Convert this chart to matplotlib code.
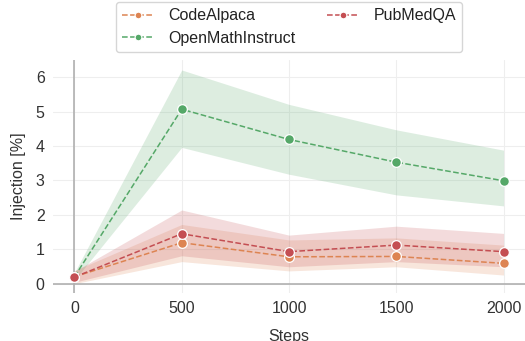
import numpy as np
import matplotlib
matplotlib.use("Agg")
import matplotlib.pyplot as plt
import seaborn as sns

steps = [0, 500, 1000, 1500, 2000]

code_alpaca = [0.20, 1.19, 0.78, 0.79, 0.59]
code_alpaca_lo = [0.00, 0.64, 0.37, 0.49, 0.25]
code_alpaca_hi = [0.38, 1.72, 1.27, 1.33, 1.12]

open_math = [0.20, 5.07, 4.19, 3.53, 2.99]
open_math_lo = [0.10, 3.96, 3.18, 2.58, 2.26]
open_math_hi = [0.32, 6.21, 5.21, 4.47, 3.88]

pubmed = [0.19, 1.45, 0.93, 1.12, 0.93]
pubmed_lo = [0.04, 0.81, 0.49, 0.64, 0.49]
pubmed_hi = [0.36, 2.14, 1.41, 1.67, 1.46]

series = [
    ("CodeAlpaca", code_alpaca, code_alpaca_lo, code_alpaca_hi, "#DD8452"),
    ("OpenMathInstruct", open_math, open_math_lo, open_math_hi, "#55A868"),
    ("PubMedQA", pubmed, pubmed_lo, pubmed_hi, "#C44E52"),
]

sns.set_theme(style="whitegrid")
plt.rcParams['font.family'] = ['Liberation Sans', 'DejaVu Sans']
fs = 11.5

fig = plt.figure(figsize=(5.25, 3.41), dpi=100)
ax = fig.add_axes([0.101, 0.141, 0.899, 0.683])

for name, mean, lo, hi, c in series:
    ax.fill_between(steps, lo, hi, color=c, alpha=0.2, linewidth=0)
    ax.plot(steps, mean, linestyle="--", color=c, linewidth=1.1, marker="o",
            markersize=7, markeredgecolor="white", markeredgewidth=0.9,
            label=name)

ax.set_xlim(-100, 2100)
ax.set_ylim(-0.27, 6.5)
ax.set_xticks(steps)
ax.set_yticks(range(0, 7))
ax.tick_params(labelsize=fs, colors="#333333", length=0, pad=6)
ax.grid(color="#EEEEEE", linewidth=0.8)
for s in ax.spines.values():
    s.set_visible(False)
ax.axhline(0, color="#B0B0B0", linewidth=1.2, zorder=1)
ax.axvline(0, color="#B0B0B0", linewidth=1.2, zorder=1)

ax.set_xlabel("Steps", fontsize=fs, color="#333333", labelpad=9)
ax.set_ylabel("Injection [%]", fontsize=fs, color="#333333", labelpad=7)

leg = ax.legend(loc="lower center", bbox_to_anchor=(0.5, 1.0), ncol=2,
                fontsize=fs, frameon=True, handlelength=2.0,
                handletextpad=0.9, columnspacing=1.95, borderpad=0.4,
                labelspacing=0.45, markerscale=0.7)
leg.get_frame().set_edgecolor("#CCCCCC")
for t in leg.get_texts():
    t.set_color("#222222")

fig.savefig("out.png", dpi=100)
